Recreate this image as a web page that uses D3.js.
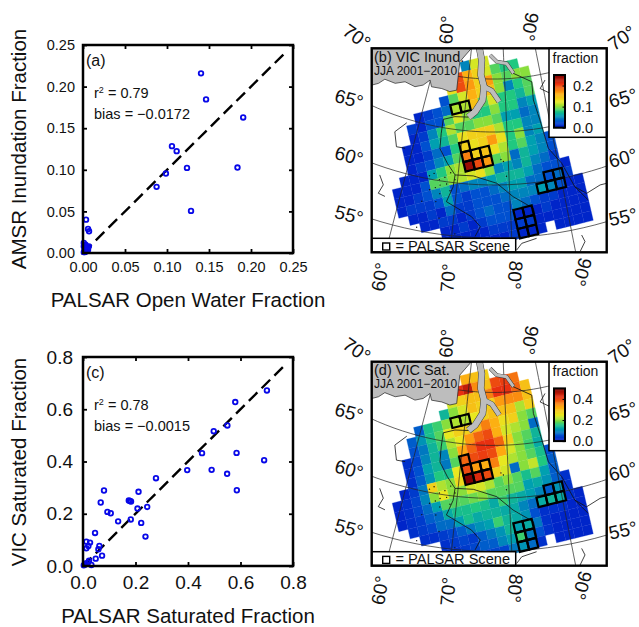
<!DOCTYPE html>
<html>
<head>
<meta charset="utf-8">
<style>
  html, body { margin: 0; background: #fff; }
  text { font-family: "Liberation Sans", Arial, sans-serif; fill: #111; }
</style>
<script src="https://cdn.jsdelivr.net/npm/d3@7/dist/d3.min.js"></script>
</head>
<body>
<div id="chart"></div>
<script>
// scatter data (panel a)
var palsarWater = [0.1405, 0.1465, 0.1907, 0.1059, 0.1115, 0.1238, 0.1839, 0.0987, 0.0876, 0.1286, 0.0036, 0.006, 0.0072,
  0.001, 0.002, 0.003, 0.004, 0.005, 0.006, 0.002, 0.003, 0.004, 0.005, 0.001, 0.002, 0.003, 0.001, 0.007, 0.002]
var amsrInund = [0.2159, 0.1846, 0.1629, 0.1284, 0.1224, 0.1023, 0.1027, 0.0955, 0.0795, 0.0506, 0.0401, 0.0289, 0.0261,
  0.001, 0.001, 0.002, 0.002, 0.003, 0.004, 0.004, 0.005, 0.006, 0.007, 0.008, 0.009, 0.01, 0.012, 0.008, 0.003]

// scatter data (panel c)
var palsarSat = [0.7006, 0.58, 0.55, 0.498, 0.4535, 0.585, 0.69, 0.49, 0.397, 0.549, 0.586, 0.278, 0.2115, 0.08, 0.0675,
  0.1745, 0.183, 0.179, 0.2446, 0.2076, 0.093, 0.1057, 0.1338, 0.182, 0.2217, 0.238, 0.0459, 0.0127, 0.0268, 0.0204,
  0.0127, 0.0624, 0.0586, 0.0726, 0.0484, 0.0229, 0.01, 0.032, 0.019, 0.003]
var vicSat = [0.672, 0.6275, 0.538, 0.516, 0.432, 0.433, 0.405, 0.368, 0.367, 0.353, 0.29, 0.336, 0.284, 0.289, 0.243,
  0.2505, 0.2467, 0.249, 0.226, 0.22, 0.207, 0.202, 0.171, 0.178, 0.165, 0.1125, 0.1265, 0.0933, 0.0895, 0.0767,
  0.0677, 0.0767, 0.0639, 0.0396, 0.0281, 0.0204, 0.01, 0.004, 0.013, 0.003]

var ticksA = [0, 0.05, 0.1, 0.15, 0.2, 0.25]
var ticksC = [0, 0.2, 0.4, 0.6, 0.8]

// map cells, hundredths of fraction. row r runs -16..2, first column of each row in rowStart
var rowStart = [-2, -3, -4, -5, -8, -9, -9, -10, -10, -10, -11, -12, -12, -12, -11, -10, -8, -8, -8]
var inundRows = [
  [5, 12, 12],
  [20, 16, 14, 12, 9, 8, 8],
  [13, 20, 17, 14, 17, 10, 9, 10, 10],
  [3, 9, 12, 16, 14, 15, 10, 5, 8, 9],
  [1, 2, 3, 4, 11, 11, 15, 9, 12, 8, 8, 7, 9],
  [2, 1, 3, 3, 9, 12, 10, 8, 8, 10, 8, 8, 5, 6],
  [1, 2, 5, 8, 11, 9, 9, 10, 10, 9, 6, 6, 4, 5],
  [1, 1, 3, 6, 7, 9, 13, 14, 14, 14, 11, 8, 8, 5, 5],
  [1, 1, 2, 4, 3, 8, 14, 13, 14, 17, 13, 8, 10, 5, 6],
  [1, 2, 3, 5, 6, 9, 18, 14, 15, 13, 11, 8, 9, 6, 5, 3],
  [1, 1, 1, 6, 8, 10, 11, 24, 20, 17, 9, 10, 4, 7, 6, 5, 3],
  [1, 1, 1, 3, 9, 9, 10, 11, 12, 13, 10, 5, 6, 5, 7, 5, 4, 2],
  [1, 1, 2, 3, 5, 7, 3, 4, 5, 5, 6, 7, 7, 7, 6, 4, 3, 3, 1],
  [1, 2, 2, 2, 3, 6, 3, 2, 3, 3, 4, 5, 6, 6, 4, 4, 3, 4, 2],
  [1, 1, 2, 1, 4, 2, 2, 3, 3, 3, 4, 5, 5, 5, 6, 5, 3, 1, 1],
  [1, 1, 2, 2, 1, 2, 3, 4, 3, 3, 5, 4, 3, 2, 2, 1, 1, 1],
  [1, 1, 2, 1, 2, 3, 3, 3, 1, 1, 1, 2, 1, 1, 1, 1],
  [1, 1, 1, 1, 1, 2, 2, 2, 2, 2, 1, 1, 1, 1, 1, 1],
  [1, 1, 1, 1, 1, 1, 1, 2, 1, 1, 1, null, 1, 1, 1, 1]
]
var satRows = [
  [32, 30, 28],
  [42, 45, 35, 30, 40, 41, 37],
  [24, 28, 30, 30, 36, 42, 42, 38, 30],
  [14, 20, 24, 30, 28, 28, 34, 35, 35, 30],
  [7, 15, 17, 20, 22, 22, 25, 28, 30, 30, 30, 22, 28],
  [7, 11, 15, 18, 25, 28, 28, 30, 36, 32, 26, 28, 20, 18],
  [6, 9, 14, 17, 22, 25, 34, 38, 40, 32, 24, 22, 20, 8],
  [3, 5, 10, 14, 10, 20, 33, 38, 42, 42, 38, 28, 20, 18, 14],
  [3, 6, 12, 14, 9, 18, 38, 40, 41, 40, 33, 24, 20, 17, 13],
  [3, 7, 11, 16, 15, 25, 40, 34, 32, 36, 25, 22, 20, 18, 15, 6],
  [2, 4, 9, 28, 22, 20, 27, 50, 43, 40, 28, 24, 8, 20, 23, 16, 7],
  [2, 3, 5, 10, 20, 25, 20, 20, 24, 24, 22, 18, 20, 18, 15, 18, 12, 7],
  [2, 3, 5, 8, 12, 18, 18, 18, 19, 20, 18, 18, 18, 18, 12, 13, 11, 7, 3],
  [2, 3, 4, 7, 8, 13, 15, 15, 16, 15, 13, 17, 14, 13, 12, 10, 7, 11, 3],
  [3, 4, 5, 8, 8, 12, 15, 13, 14, 14, 13, 13, 10, 8, 13, 14, 13, 3, 2],
  [3, 3, 4, 5, 7, 9, 11, 12, 17, 14, 13, 11, 6, 3, 3, 3, 2, 2],
  [3, 4, 5, 4, 7, 9, 11, 14, 12, 13, 9, 3, 2, 2, 2, 2],
  [3, 3, 4, 5, 7, 7, 10, 12, 17, 9, 6, 3, 2, 2, 2, 2],
  [3, 3, 3, 4, 4, 5, 5, 9, 11, 8, 3, null, 2, 2, 2, 2]
]
// PALSAR scenes as [col, row]
var sceneCells = [[-4, -12], [-3, -12], [-4, -8], [-4, -7], [-3, -7], [-2, -7], [-4, -6], [-3, -6], [-2, -6],
  [4, -3], [5, -3], [3, -2], [4, -2], [5, -2], [0, 0], [1, 0], [0, 1], [1, 1], [0, 2], [1, 2]]

// geography as [lon, lat]
var seaCoast = [[40, 66], [46.5, 66.74], [47.8, 67.17], [48.8, 67.77], [51.6, 67.8], [53.8, 68.27], [56.6, 68.13], [58.5, 68.5],
  [59.9, 69.13], [60.7, 68.55], [63.4, 68.6], [65.6, 68.46], [67.3, 68.7], [67, 71.4], [70, 72.8], [70, 76], [40, 76]]
var obGulf = [[72.5, 72.85], [73.4, 71.76], [73.4, 70.35], [74.4, 69.26], [74.2, 68], [72.5, 66.86], [71, 66.3]]
var tazGulf = [[74.4, 69.26], [76.5, 68.9], [78.4, 67.86]]
var gydanGulf = [[75.9, 72.26], [77.9, 71.64], [80.8, 71.44], [82.6, 70.46]]
var rivers = [
  [[71, 66.3], [67.8, 66.2], [65.2, 65.77], [65.3, 64.43], [65.6, 63], [67.6, 61.73], [69.4, 60.74], [73, 60.8], [77.6, 60.16], [80.6, 58.85], [84.1, 57.6], [84.4, 56.16]],
  [[69.4, 60.74], [69.3, 59.6], [68.4, 58.14], [73.1, 56.95], [74.7, 56.05], [73.9, 55.1]],
  [[82.5, 70.47], [87.3, 69.47], [87, 67.74], [87.8, 65.8], [88.6, 63], [90.7, 61.4], [92.2, 58.96], [94, 57.43]],
  [[57.3, 64.65], [55.4, 63.5], [56.7, 62.2], [58.5, 62.3]],
  [[55.3, 59.18], [56.5, 58.4], [56.1, 57.5], [57.4, 57.4]],
  [[92.2, 58.96], [94, 58.08], [96.8, 58.5], [98, 58.46]],
  [[91.5, 54.37], [91.8, 53.7], [90.7, 52.87]],
  [[84.1, 54.75], [81.6, 54.4], [80.7, 53.8]],
  [[90.9, 69.4], [89.2, 68.7], [91.5, 68.07]]
]
var lakes = [[64.5, 60.3], [65.3, 60.6], [66.5, 60.1], [66.8, 59.6], [67.5, 60.4], [68, 59.8], [68.5, 60.9], [66, 59.3], [67, 58.8],
  [65, 59], [66.5, 58], [64, 57.8], [67.5, 56.5], [64, 55.3], [70.5, 55.2], [79.5, 60.8], [78.5, 62.4], [79, 62.2], [69.5, 60.3], [68.8, 59.2]]

var lonLines = [60, 70, 80, 90]
var latLines = [55, 60, 65, 70]

// colour ramp, stops as share of colorbar
var rampStops = [0, 0.03, 0.12, 0.24, 0.32, 0.4, 0.5, 0.66, 0.84, 1]
var rampColors = ['#000090', '#0020c8', '#0050d0', '#00a0b0', '#20c880', '#88de3c', '#e8e820', '#ffa810', '#e83010', '#800000']

var svg = d3.select('#chart').append('svg')
  .attr('width', 639)
  .attr('height', 627)

function scatter(o) {
  var x = d3.scaleLinear().domain(o.domain).range([83, 293])
  var y = d3.scaleLinear().domain(o.domain).range([o.bottom, o.top])
  var g = svg.append('g')

  g.append('rect')
    .attr('x', 83).attr('y', o.top)
    .attr('width', 210).attr('height', o.bottom - o.top)
    .attr('fill', '#fff')

  var axes = [
    [d3.axisBottom(x).tickFormat(d3.format(o.fmt)), 0, o.bottom, o.padX],
    [d3.axisLeft(y).tickFormat(d3.format(o.fmt)), 83, 0, o.padY],
    [d3.axisTop(x).tickFormat(''), 0, o.top, 0],
    [d3.axisRight(y).tickFormat(''), 293, 0, 0]
  ]
  axes.forEach(function(a) {
    var ag = g.append('g')
      .attr('transform', `translate(${a[1]},${a[2]})`)
      .call(a[0].tickValues(o.ticks).tickSizeInner(-4).tickSizeOuter(0).tickPadding(a[3]))
    ag.select('.domain').remove()
    ag.selectAll('.tick line').attr('stroke', '#000').attr('stroke-width', 1.8)
    ag.selectAll('.tick text').style('font-size', o.tickFont + 'px').style('font-family', '"Liberation Sans"').attr('fill', '#111')
  })

  // 1:1 line
  g.append('line')
    .attr('x1', x(0)).attr('y1', y(0))
    .attr('x2', x(o.domain[1] * 0.972)).attr('y2', y(o.domain[1] * 0.972))
    .attr('stroke', '#000').attr('stroke-width', 2.4)
    .attr('stroke-dasharray', '12,6')

  g.selectAll('circle.pt')
    .data(o.xs)
    .enter()
    .append('circle')
    .attr('class', 'pt')
    .attr('cx', d => x(d))
    .attr('cy', (d, i) => y(o.ys[i]))
    .attr('r', 2.3)
    .attr('fill', 'none')
    .attr('stroke', '#0808e8')
    .attr('stroke-width', 1.8)

  g.append('rect')
    .attr('x', 83).attr('y', o.top)
    .attr('width', 210).attr('height', o.bottom - o.top)
    .attr('fill', 'none').attr('stroke', '#000').attr('stroke-width', 2.5)

  g.append('text').attr('x', 86).attr('y', o.top + 21).style('font-size', '16px').text(o.tag)

  var r2 = g.append('text').attr('x', 94).attr('y', o.top + 52.5).style('font-size', '14.5px')
  r2.append('tspan').text('r')
  r2.append('tspan').attr('dy', -5).style('font-size', '9px').text('2')
  r2.append('tspan').attr('dy', 5).text(' = ' + o.r2)
  g.append('text').attr('x', 94).attr('y', o.top + 73.5).style('font-size', '14.5px').text('bias = ' + o.bias)

  g.append('text')
    .attr('x', 188).attr('y', o.titleY)
    .attr('text-anchor', 'middle')
    .style('font-size', '20.5px')
    .text(o.xTitle)
  g.append('text')
    .attr('transform', `translate(26,${o.yTitleMid}) rotate(-90)`)
    .attr('text-anchor', 'middle')
    .style('font-size', '20.5px')
    .text(o.yTitle)
}

scatter({
  domain: [0, 0.25], ticks: ticksA, fmt: '.2f', top: 45, bottom: 253,
  xs: palsarWater, ys: amsrInund, tag: '(a)', r2: '0.79', bias: '\u22120.0172',
  tickFont: 14.5, padX: 8.5, padY: 8, titleY: 307, yTitleMid: 149,
  xTitle: 'PALSAR Open Water Fraction', yTitle: 'AMSR Inundation Fraction'
})
scatter({
  domain: [0, 0.8], ticks: ticksC, fmt: '.1f', top: 357, bottom: 566,
  xs: palsarSat, ys: vicSat, tag: '(c)', r2: '0.78', bias: '\u22120.0015',
  tickFont: 19, padX: 9.5, padY: 10, titleY: 623, yTitleMid: 462,
  xTitle: 'PALSAR Saturated Fraction', yTitle: 'VIC Saturated Fraction'
})

// map panels
var frame = { x: 371.7, y: 48.3, w: 235, h: 204 }
var cell = { x0: 513.3, y0: 210, ux: 9.17, uy: -2.27, vx: 2.2, vy: 9.5 }

var projection = d3.geoConicEquidistant()
  .parallels([50, 70])
  .rotate([-77, 0])
  .scale(607)
  .translate([0, 0])
var anchor = projection([77, 60])
projection.translate([493.7 - anchor[0], 185 - anchor[1]])
var geoPath = d3.geoPath(projection)
var pts = d3.line().x(d => projection(d)[0]).y(d => projection(d)[1])
var meridians = lonLines.map(lon => ({ type: 'LineString', coordinates: d3.range(46, 75, 1).map(lat => [lon, lat]) }))
var parallels = latLines.map(lat => ({ type: 'LineString', coordinates: d3.range(30, 121, 2).map(lon => [lon, lat]) }))

function corner(c, r) {
  return [cell.x0 + cell.ux * c + cell.vx * r, cell.y0 + cell.uy * c + cell.vy * r]
}
function cellPath(c, r) {
  return d3.line()([corner(c, r), corner(c + 1, r), corner(c + 1, r + 1), corner(c, r + 1)]) + 'Z'
}

var degreeLabels = [
  ['70\u00b0', 356.7, 36.7, 35], ['60\u00b0', 446.7, 30, -85], ['90\u00b0', 530, 26.7, 100], ['70\u00b0', 622, 38, -35],
  ['65\u00b0', 349, 99, 15], ['60\u00b0', 349, 156, 15], ['55\u00b0', 349, 215, 15],
  ['65\u00b0', 623, 98, -15], ['60\u00b0', 623, 158, -15], ['55\u00b0', 623, 217, -12],
  ['60\u00b0', 380, 277, -80], ['70\u00b0', 448, 278, -85], ['80\u00b0', 515, 275, 95], ['90\u00b0', 582, 272, 105]
]

function mapPanel(o) {
  var g = svg.append('g').attr('transform', `translate(0,${o.dy})`)
  var clipId = 'clip' + Math.round(o.dy)
  g.append('clipPath').attr('id', clipId).append('rect')
    .attr('x', frame.x).attr('y', frame.y).attr('width', frame.w).attr('height', frame.h)

  var inner = g.append('g').attr('clip-path', `url(#${clipId})`)
  var color = d3.scaleLinear()
    .domain(rampStops.map(d => d * o.max))
    .range(rampColors)

  var cells = []
  o.rows.forEach(function(row, i) {
    row.forEach(function(v, j) {
      if (v !== null) cells.push({ c: rowStart[i] + j, r: i - 16, v: v / 100 })
    })
  })
  inner.selectAll('path.cell')
    .data(cells)
    .enter()
    .append('path')
    .attr('class', 'cell')
    .attr('d', d => cellPath(d.c, d.r))
    .attr('fill', d => color(d.v))
    .attr('stroke', d => color(d.v))
    .attr('stroke-width', 0.3)

  // graticule
  inner.selectAll('path.grat')
    .data(meridians.concat(parallels))
    .enter()
    .append('path')
    .attr('class', 'grat')
    .attr('d', geoPath)
    .attr('fill', 'none')
    .attr('stroke', '#222')
    .attr('stroke-width', 0.7)

  // sea and gulfs sit on top of the grid
  inner.append('path')
    .attr('d', pts(seaCoast) + 'Z')
    .attr('fill', '#bdbdbd')
    .attr('stroke', '#222')
    .attr('stroke-width', 0.7)

  var gulfs = [[obGulf, 6], [tazGulf, 4.5], [gydanGulf, 3]]
  gulfs.forEach(function(a) {
    inner.append('path').attr('d', pts(a[0])).attr('fill', 'none').attr('stroke', '#333').attr('stroke-width', a[1] + 0.9).attr('stroke-linejoin', 'round')
  })
  gulfs.forEach(function(a) {
    inner.append('path').attr('d', pts(a[0])).attr('fill', 'none').attr('stroke', '#bdbdbd').attr('stroke-width', a[1]).attr('stroke-linejoin', 'round')
  })

  inner.selectAll('path.river')
    .data(rivers)
    .enter()
    .append('path')
    .attr('class', 'river')
    .attr('d', pts)
    .attr('fill', 'none')
    .attr('stroke', '#111')
    .attr('stroke-width', 0.8)

  inner.selectAll('circle.lake')
    .data(lakes)
    .enter()
    .append('circle')
    .attr('class', 'lake')
    .attr('cx', d => projection(d)[0])
    .attr('cy', d => projection(d)[1])
    .attr('r', 0.7)
    .attr('fill', '#111')

  inner.selectAll('path.scene')
    .data(sceneCells)
    .enter()
    .append('path')
    .attr('class', 'scene')
    .attr('d', d => cellPath(d[0], d[1]))
    .attr('fill', 'none')
    .attr('stroke', '#000')
    .attr('stroke-width', 2.2)

  // headers
  g.append('text').attr('x', 374).attr('y', 62).style('font-size', '14.5px').text(o.title)
  g.append('text').attr('x', 374).attr('y', 75).style('font-size', '12px').text('JJA 2001\u22122010')

  // scene legend
  g.append('rect').attr('x', frame.x).attr('y', 238.3).attr('width', 144).attr('height', 13.9)
    .attr('fill', '#fff').attr('stroke', '#000').attr('stroke-width', 1.5)
  g.append('rect').attr('x', 382.7).attr('y', 243).attr('width', 7).attr('height', 7)
    .attr('fill', 'none').attr('stroke', '#000').attr('stroke-width', 1.4)
  g.append('text').attr('x', 395.5).attr('y', 250.5).style('font-size', '14.6px').text('= PALSAR Scene')

  // colorbar box
  g.append('rect').attr('x', 549).attr('y', frame.y).attr('width', 57.7).attr('height', 89)
    .attr('fill', '#fff').attr('stroke', '#000').attr('stroke-width', 1.5)
  g.append('text').attr('x', 552.5).attr('y', 63).style('font-size', '14px').text('fraction')

  var barY = d3.scaleLinear().domain([0, o.max]).range([127.7, 75])
  g.selectAll('rect.ramp')
    .data(d3.range(0, o.max, o.max / 60))
    .enter()
    .append('rect')
    .attr('class', 'ramp')
    .attr('x', 554)
    .attr('width', 11)
    .attr('y', d => barY(d + o.max / 60))
    .attr('height', 53 / 60 + 0.4)
    .attr('fill', d => color(d + o.max / 120))
  var barAxis = g.append('g')
    .attr('transform', 'translate(565,0)')
    .call(d3.axisRight(barY).tickValues(o.barTicks).tickFormat(d3.format('.1f')).tickSizeInner(-2.5).tickSizeOuter(0).tickPadding(8))
  barAxis.select('.domain').remove()
  barAxis.selectAll('.tick line').attr('stroke', '#000')
  barAxis.selectAll('.tick text').style('font-size', '14.5px').style('font-family', '"Liberation Sans"').attr('fill', '#111')
  g.append('rect').attr('x', 554).attr('y', 75).attr('width', 11).attr('height', 52.7)
    .attr('fill', 'none').attr('stroke', '#000').attr('stroke-width', 2)

  // frame
  g.append('rect').attr('x', frame.x).attr('y', frame.y).attr('width', frame.w).attr('height', frame.h)
    .attr('fill', 'none').attr('stroke', '#000').attr('stroke-width', 2.4)

  g.selectAll('text.deg')
    .data(degreeLabels)
    .enter()
    .append('text')
    .attr('class', 'deg')
    .attr('transform', d => `translate(${d[1]},${d[2]}) rotate(${d[3]})`)
    .attr('text-anchor', 'middle')
    .attr('dominant-baseline', 'central')
    .style('font-size', '19px')
    .text(d => d[0])
}

mapPanel({ dy: 0, rows: inundRows, max: 0.25, barTicks: [0, 0.1, 0.2], title: '(b) VIC Inund.' })
mapPanel({ dy: 313.4, rows: satRows, max: 0.5, barTicks: [0, 0.2, 0.4], title: '(d) VIC Sat.' })
</script>
</body>
</html>
